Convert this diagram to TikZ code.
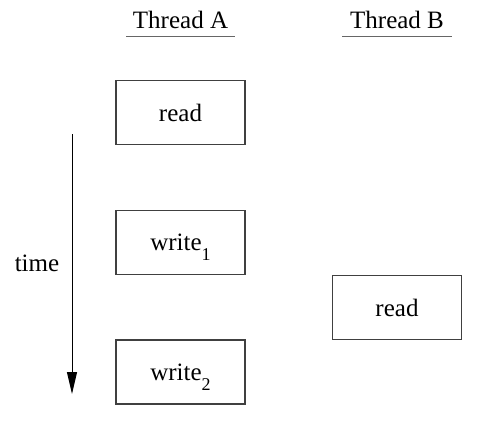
\documentclass[tikz,border=0pt]{standalone}
\usepackage{fontspec}
\setmainfont{Liberation Serif}
\usetikzlibrary{arrows.meta}

\newcommand{\lowsub}[1]{\raisebox{-10pt}[0pt][0pt]{\fontsize{18}{18}\selectfont #1}}

\tikzset{
  opbox/.style={draw=black!75, line width=1.1pt, minimum width=129pt, minimum height=64pt, inner sep=0pt},
  threadhead/.style={inner sep=0pt},
  headline/.style={draw=black!60, line width=1.5pt}
}

\begin{document}
\begin{tikzpicture}[x=1pt, y=-1pt, font=\fontsize{25}{29}\selectfont]
			%%%%% START %%%%%
			\useasboundingbox (0, 0) rectangle (486, 428);
			
			% thread headers
			\node[threadhead] (headA) at (180.5, 20) {Thread A};
			\node[threadhead] (headB) at (397, 20) {Thread B};
			\draw[headline] (126, 36.5) -- (235, 36.5);
			\draw[headline] (342, 36.5) -- (452, 36.5);
			
			% operations of thread A
			\node[opbox] (readA) at (180.5, 112.5) {read};
			\node[opbox] (writeone) at (180.5, 242.5) {write\lowsub{1}};
			\node[opbox] (writetwo) at (180.5, 372) {write\lowsub{2}};
			
			% operation of thread B
			\node[opbox] (readB) at (397, 307.5) {read};
			
			% time axis
			\coordinate (timestart) at (72, 134);
			\coordinate (timeend) at (72, 394);
			\draw[line width=1pt, -{Triangle[length=22pt, width=10pt]}] (timestart) -- (timeend);
			\node (timelabel) at (37, 263) {time};
			
			%%%%% END %%%%%
\end{tikzpicture}
\end{document}
